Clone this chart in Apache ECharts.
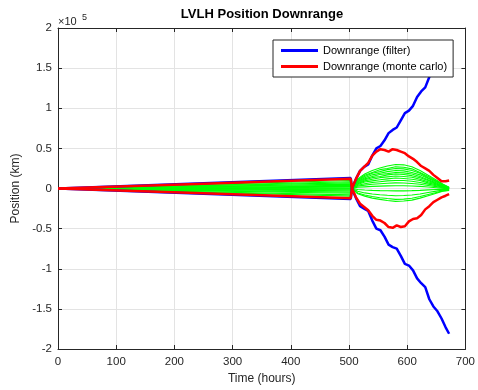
<!DOCTYPE html>
<html>
<head>
<meta charset="utf-8">
<script src="https://cdn.jsdelivr.net/npm/echarts@6/dist/echarts.min.js"></script>
<style>
  html, body { margin: 0; padding: 0; background: #fff; }
  #main { width: 478px; height: 390px; }
</style>
</head>
<body>
<div id="main"></div>
<script>
// time stamps (hours)
var tRise = [0, 250, 503];
var tTrack = [505, 512, 519, 526, 533, 540, 547, 554, 561, 568, 575, 582, 589,
              596, 603, 610, 617, 624, 631, 638, 645, 652, 659, 666, 672];
var tMc = [505, 515, 527, 540, 553, 566, 580, 594, 608, 622, 636, 650, 661, 672];

// filter (blue) bounds, km
var filterUpRise = [0, 6500, 13000];
var filterLoRise = [0, -6500, -13000];
var filterUpTrack = [0, 12000, 22000, 27000, 30000, 41000, 50000, 53000, 60000, 69000, 73000, 76000, 85000,
                     94000, 97000, 103000, 114000, 121000, 126000, 139000, 148000, 154000, 163000, 173000, 181000];
var filterLoTrack = [0, -12000, -22000, -25000, -28000, -40000, -50000, -52000, -60000, -70000, -73000, -75000, -84000,
                     -94000, -96000, -102000, -112000, -118000, -123000, -138000, -147000, -153000, -162000, -173000, -181000];

// monte carlo (red) bounds, km
var mcUpRise = [0, 6000, 12000];
var mcLoRise = [0, -6000, -12000];
var mcUpTrack = [0, 12000, 22000, 27000, 32000, 41000, 46000, 49000, 48000, 46000, 49000, 48000, 46000,
                 44000, 40000, 37000, 33000, 28000, 25000, 22000, 17000, 13000, 9000, 9000, 10000];
var mcLoTrack = [0, -11000, -19000, -23000, -27000, -34000, -39000, -40000, -43000, -48000, -49000, -46000, -48000,
                 -47000, -41000, -38000, -37000, -33000, -26000, -22000, -17000, -14000, -11000, -9000, -7000];

// monte carlo runs (green), km
var greenRise = [
  [0, 5200, 10000], [0, 4100, 8500], [0, 3600, 7000], [0, 2600, 5500], [0, 2100, 4000],
  [0, 1400, 3000], [0, 800, 1500], [0, 200, 500], [0, -300, -500], [0, -800, -1500],
  [0, -1400, -3000], [0, -2300, -4500], [0, -2900, -6000], [0, -4100, -8000], [0, -4700, -9500]
];
var greenTrack = [
  [0, 12000, 18000, 22500, 25500, 28000, 30000, 29500, 27000, 22500, 16500, 10500, 5500, 1500],
  [0, 11000, 16500, 20000, 23500, 25000, 27000, 26500, 24500, 20000, 15000, 9500, 5000, 1200],
  [0, 10000, 15000, 19000, 21000, 23500, 25000, 24500, 22500, 19000, 13500, 9000, 4500, 1000],
  [0, 9000, 13500, 17000, 19000, 21000, 22500, 22000, 20000, 17000, 12500, 8000, 4000, 800],
  [0, 8000, 12000, 15000, 17500, 18500, 20000, 19500, 18000, 15000, 11000, 7000, 3500, 500],
  [0, 7000, 11000, 13500, 15000, 17000, 18000, 17500, 16000, 13500, 10000, 6000, 3000, 300],
  [0, 6000, 9500, 11500, 13500, 14500, 15500, 15000, 14000, 11500, 8500, 5500, 2500, 0],
  [0, 5000, 8000, 9500, 11000, 12000, 13000, 12500, 11500, 10000, 7000, 4500, 2000, -300],
  [0, 4000, 6000, 7500, 8500, 9500, 10000, 10000, 9000, 7500, 5500, 3500, 1500, -500],
  [0, 3000, 4200, 5300, 6000, 6500, 7000, 6800, 6300, 5300, 3800, 2300, 1000, -800],
  [0, 1500, 2000, 2600, 3000, 3300, 3500, 3400, 3100, 2600, 1800, 1000, 300, -1000],
  [0, -1200, -1800, -2300, -2600, -2800, -3000, -2900, -2700, -2300, -1700, -1200, -800, -1500],
  [0, -3500, -5500, -6800, -7700, -8400, -9000, -8800, -8100, -6800, -5000, -3300, -2000, -1800],
  [0, -5500, -8000, -10000, -11500, -12500, -13500, -13200, -12200, -10000, -7500, -5000, -3000, -2000],
  [0, -6500, -9500, -12000, -13500, -15000, -16000, -15500, -14500, -12000, -9000, -6000, -3500, -2500]
];

var filterName = 'Downrange (filter)';
var mcName = 'Downrange (monte carlo)';

function pairs(ts, vs) {
  return ts.map(function (t, i) { return [t, vs[i]]; });
}

var axisColor = '#262626';
var gridColor = '#e3e3e3';
var labelFont = { color: axisColor, fontSize: 11.5, fontFamily: 'Liberation Sans, Arial, sans-serif' };

var series = [];
greenRise.forEach(function (rise, i) {
  series.push({
    name: 'run' + i,
    type: 'line',
    symbol: 'none',
    lineStyle: { color: '#00ff00', width: 1.1 },
    data: pairs(tRise, rise).concat(pairs(tMc, greenTrack[i]))
  });
});
series.push({
  name: filterName, type: 'line', symbol: 'none', color: '#0000ff',
  lineStyle: { color: '#0000ff', width: 2.5 },
  data: pairs(tRise, filterUpRise).concat(pairs(tTrack, filterUpTrack))
});
series.push({
  name: filterName, type: 'line', symbol: 'none', color: '#0000ff',
  lineStyle: { color: '#0000ff', width: 2.5 },
  data: pairs(tRise, filterLoRise).concat(pairs(tTrack, filterLoTrack))
});
series.push({
  name: mcName, type: 'line', symbol: 'none', color: '#ff0000',
  lineStyle: { color: '#ff0000', width: 2.5 },
  data: pairs(tRise, mcUpRise).concat(pairs(tTrack, mcUpTrack))
});
series.push({
  name: mcName, type: 'line', symbol: 'none', color: '#ff0000',
  lineStyle: { color: '#ff0000', width: 2.5 },
  data: pairs(tRise, mcLoRise).concat(pairs(tTrack, mcLoTrack))
});

var chart = echarts.init(document.getElementById('main'));
var option = {
  animation: false,
  backgroundColor: '#fff',
  grid: { left: 58, right: 11, top: 28, bottom: 38 },
  legend: {
    data: [{ name: filterName }, { name: mcName }],
    orient: 'vertical',
    left: 273,
    top: 40,
    icon: 'rect',
    itemWidth: 37,
    itemHeight: 3,
    itemGap: 5,
    padding: [5, 6, 5, 8],
    borderColor: axisColor,
    borderWidth: 1,
    backgroundColor: '#fff',
    textStyle: { color: '#000', fontSize: 11, fontFamily: 'Liberation Sans, Arial, sans-serif' }
  },
  graphic: [
    {
      type: 'text', x: 262, y: 14,
      style: {
        text: 'LVLH Position Downrange', textAlign: 'center', textVerticalAlign: 'middle',
        font: 'bold 13px Liberation Sans, Arial, sans-serif', fill: '#000'
      }
    },
    {
      type: 'text', x: 58, y: 22,
      style: {
        text: '\u00d710', textVerticalAlign: 'middle',
        font: '11px Liberation Sans, Arial, sans-serif', fill: axisColor
      }
    },
    {
      type: 'text', x: 82, y: 18,
      style: {
        text: '5', textVerticalAlign: 'middle',
        font: '9px Liberation Sans, Arial, sans-serif', fill: axisColor
      }
    }
  ],
  xAxis: [
    {
      type: 'value', min: 0, max: 700, interval: 100, position: 'bottom',
      name: 'Time (hours)', nameLocation: 'middle', nameGap: 24,
      nameTextStyle: { color: axisColor, fontSize: 12, fontFamily: 'Liberation Sans, Arial, sans-serif' },
      axisLine: { show: true, onZero: false, lineStyle: { color: axisColor, width: 1 } },
      axisTick: { show: true, inside: true, length: 4, lineStyle: { color: axisColor } },
      axisLabel: Object.assign({ margin: 7 }, labelFont),
      splitLine: { show: true, lineStyle: { color: gridColor, width: 1 } }
    },
    {
      type: 'value', min: 0, max: 700, interval: 100, position: 'top',
      axisLine: { show: true, onZero: false, lineStyle: { color: axisColor, width: 1 } },
      axisTick: { show: true, inside: true, length: 4, lineStyle: { color: axisColor } },
      axisLabel: { show: false },
      splitLine: { show: false }
    }
  ],
  yAxis: [
    {
      type: 'value', min: -200000, max: 200000, interval: 50000, position: 'left',
      name: 'Position (km)', nameLocation: 'middle', nameGap: 30,
      nameTextStyle: { color: axisColor, fontSize: 12, fontFamily: 'Liberation Sans, Arial, sans-serif' },
      axisLine: { show: true, onZero: false, lineStyle: { color: axisColor, width: 1 } },
      axisTick: { show: true, inside: true, length: 4, lineStyle: { color: axisColor } },
      axisLabel: Object.assign({
        margin: 6,
        formatter: function (v) { return String(v / 100000); }
      }, labelFont),
      splitLine: { show: true, lineStyle: { color: gridColor, width: 1 } }
    },
    {
      type: 'value', min: -200000, max: 200000, interval: 50000, position: 'right',
      axisLine: { show: true, onZero: false, lineStyle: { color: axisColor, width: 1 } },
      axisTick: { show: true, inside: true, length: 4, lineStyle: { color: axisColor } },
      axisLabel: { show: false },
      splitLine: { show: false }
    }
  ],
  series: series
};
chart.setOption(option);
</script>
</body>
</html>
